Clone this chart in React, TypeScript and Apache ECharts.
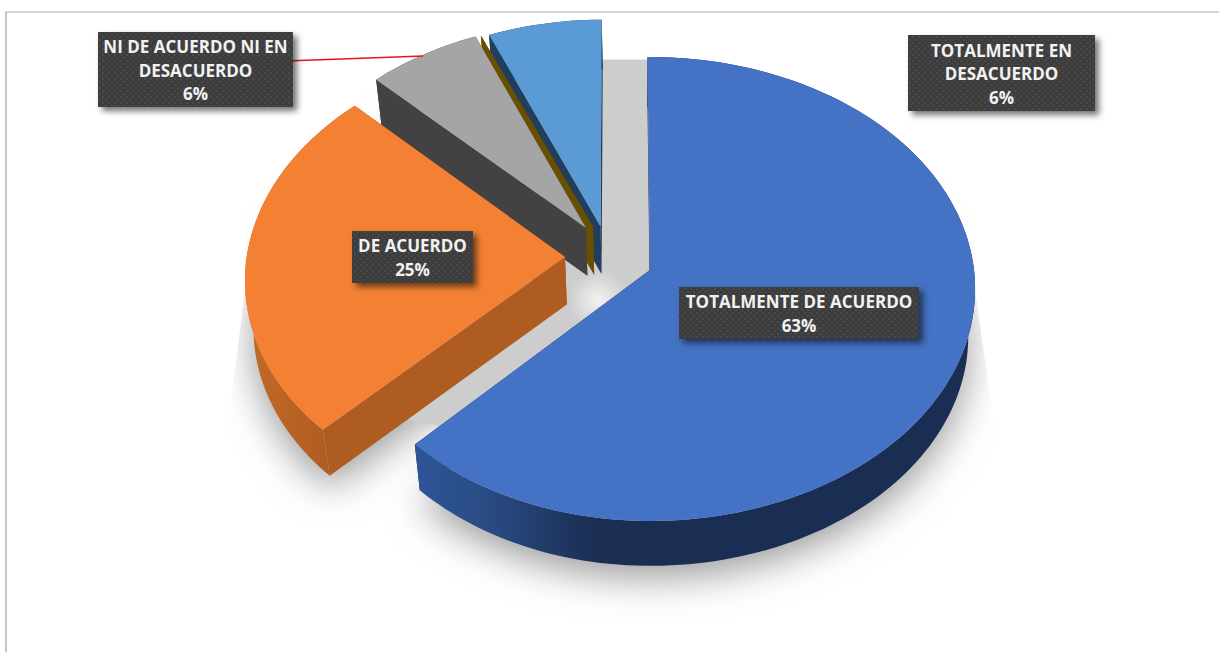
import React, { useEffect, useRef } from "react";
import * as echarts from "echarts";

const categories = [
  "TOTALMENTE DE ACUERDO",
  "DE ACUERDO",
  "NI DE ACUERDO NI EN DESACUERDO",
  "EN DESACUERDO",
  "TOTALMENTE EN DESACUERDO",
];
const shares = [62.5, 25, 6.25, 0, 6.25];
const topColors = ["#4472c4", "#f48133", "#a5a5a5", "#ffc000", "#5b9bd5"];
const radialWallColors = ["#1a2d52", "#ae5c21", "#424242", "#6b4f00", "#213f5c"];

const CX = 650, CY = 270, RX = 324, RY = 230.4, K = 0.082;
const BASE_Y = 317.5, BASE_RY = 228, BASE_SX = 0.979;
const START_DEG = -0.5;
const shifts = [[0, 0], [-0.2636, -0.0568], [-0.2005, -0.1854], [-0.1787, -0.19], [-0.155, -0.193]];
const leftScale = [0.975, 0.987, 0.99, 1, 0.99];
const layer = [14, 13, 12, 11, 10];

const topPt = (u: number, v: number) => {
  const d = 1 - K * v;
  return [CX + (RX * u) / d, CY + (RY * v) / d];
};
const basePt = (u: number, v: number) => {
  const d = 1 - K * v;
  return [CX + (BASE_SX * RX * u) / d, BASE_Y + (BASE_RY * v) / d];
};
const rim = (i: number, a0: number, a1: number, fn: (u: number, v: number) => number[]) => {
  const [du, dv] = shifts[i];
  const n = Math.max(1, Math.ceil((a1 - a0) / 1.5));
  const pts: number[][] = [];
  for (let j = 0; j <= n; j++) {
    const t = ((a0 + ((a1 - a0) * j) / n) * Math.PI) / 180;
    const s = Math.sin(t);
    pts.push(fn(du + (s < 0 ? s * leftScale[i] : s), dv - Math.cos(t)));
  }
  return pts;
};

const renderSlice = (params: any, api: any) => {
  const i = params.dataIndex;
  let before = 0;
  for (let j = 0; j < i; j++) before += shares[j];
  const total = shares.reduce((a, b) => a + b, 0);
  const a0 = START_DEG + (before / total) * 360;
  const a1 = a0 + (api.value(0) / total) * 360;
  const [du, dv] = shifts[i];
  const apexT = topPt(du, dv);
  const apexB = basePt(du, dv);
  const topArc = rim(i, a0, a1, topPt);
  const baseArc = rim(i, a0, a1, basePt);
  const z = layer[i];
  const poly = (points: number[][], style: any, z2: number) => ({
    type: "polygon",
    shape: { points },
    style,
    z2,
    silent: true,
  });
  const children: any[] = [];
  if (shares[i] > 0) {
    children.push(
      poly([apexB, ...baseArc], {
        fill: "#c4c4c4",
        shadowBlur: 38,
        shadowOffsetY: 12,
        shadowColor: "#9c9c9c",
      }, 1)
    );
  }
  if (i === 0) {
    children.push(
      poly(
        [[598, 60], [650, 60], [655, 290], [440, 426], [405, 418], [560, 265]],
        { fill: "#cdcdcd", shadowBlur: 10, shadowColor: "#cdcdcd" },
        2
      )
    );
    children.push(
      poly([[245, 290], [230, 410], [204, 652], [0, 652], [0, 0], [245, 0]], { fill: "#ffffff" }, 3),
      poly([[975, 290], [992, 410], [1026, 652], [1219, 652], [1219, 0], [975, 0]], { fill: "#ffffff" }, 3)
    );
    children.push({
      type: "rect",
      shape: { x: 560, y: 0, width: 150, height: 59 },
      style: { fill: "#ffffff" },
      z2: 3,
      silent: true,
    });
    children.push({
      type: "circle",
      shape: { cx: 598, cy: 300, r: 30 },
      style: {
        fill: {
          type: "radial", x: 0.5, y: 0.5, r: 0.5,
          colorStops: [
            { offset: 0, color: "rgba(255,255,255,0.75)" },
            { offset: 1, color: "rgba(255,255,255,0)" },
          ],
        },
      },
      z2: 4,
      silent: true,
    });
  }
  const wall = radialWallColors[i];
  const first = [topArc[0], baseArc[0]];
  const last = [topArc[topArc.length - 1], baseArc[baseArc.length - 1]];
  children.push(poly([apexT, first[0], first[1], apexB], { fill: wall }, z));
  children.push(poly([apexT, last[0], last[1], apexB], { fill: wall }, z));
  if (shares[i] > 0) {
    let outerFill: any = wall;
    if (i === 0) {
      outerFill = {
        type: "linear", x: 0, y: 0, x2: 1, y2: 0,
        colorStops: [
          { offset: 0, color: "#2f5597" },
          { offset: 0.12, color: "#2a4c86" },
          { offset: 0.33, color: "#1a2d52" },
          { offset: 1, color: "#1a2d52" },
        ],
      };
    } else if (i === 1) {
      outerFill = {
        type: "linear", x: 0, y: 0, x2: 1, y2: 0,
        colorStops: [
          { offset: 0, color: "#c46a26" },
          { offset: 1, color: "#a65820" },
        ],
      };
    }
    children.push(poly([...topArc, ...[...baseArc].reverse()], { fill: outerFill }, z));
    children.push(poly([apexT, ...topArc], { fill: topColors[i] }, z));
  }
  return { type: "group", children };
};

const labels = [
  { lines: "TOTALMENTE DE ACUERDO", idx: 0, box: [679, 287, 240, 52] },
  { lines: "DE ACUERDO", idx: 1, box: [352, 231, 121, 52] },
  { lines: "NI DE ACUERDO NI EN\nDESACUERDO", idx: 2, box: [98, 32, 195, 75] },
  { lines: "TOTALMENTE EN\nDESACUERDO", idx: 4, box: [908, 35, 187, 76] },
];

const makeTexture = () => {
  const c = document.createElement("canvas");
  c.width = 6;
  c.height = 6;
  const g = c.getContext("2d")!;
  g.fillStyle = "#3e3e3e";
  g.fillRect(0, 0, 6, 6);
  g.fillStyle = "#4a4a4a";
  g.fillRect(0, 0, 2, 2);
  g.fillRect(3, 3, 2, 2);
  return c;
};

export default function App() {
  const ref = useRef<HTMLDivElement>(null);
  useEffect(() => {
    document.body.style.margin = "0";
    const chart = echarts.init(ref.current!, undefined, { renderer: "svg" });
    const texture = makeTexture();
    const graphic: any[] = [
      { type: "line", shape: { x1: 6, y1: 12, x2: 6, y2: 652 }, style: { stroke: "#c6c6c6", lineWidth: 2 }, z: 20 },
      { type: "line", shape: { x1: 5, y1: 12, x2: 1219, y2: 12 }, style: { stroke: "#c6c6c6", lineWidth: 1.5 }, z: 20 },
      { type: "line", shape: { x1: 293, y1: 60.7, x2: 423, y2: 56 }, style: { stroke: "#f0101c", lineWidth: 1.5 }, z: 20 },
    ];
    labels.forEach((l) => {
      const [x, y, w, h] = l.box;
      graphic.push({
        type: "rect",
        shape: { x, y, width: w, height: h },
        style: {
          fill: { image: texture, repeat: "repeat" },
          shadowBlur: 6,
          shadowOffsetX: 4,
          shadowOffsetY: 4,
          shadowColor: "rgba(0,0,0,0.55)",
        },
        z: 21,
      });
      graphic.push({
        type: "text",
        x: x + w / 2,
        y: y + h / 2 + 0.5,
        style: {
          text: `${l.lines}\n${Math.round(shares[l.idx])}%`,
          fill: "#f2f2f2",
          font: 'bold 17px "Open Sans"',
          lineHeight: 23.5,
          align: "center",
          verticalAlign: "middle",
        },
        z: 22,
      });
    });
    chart.setOption({
      animation: false,
      backgroundColor: "#ffffff",
      graphic,
      series: [
        {
          type: "custom",
          coordinateSystem: "none",
          renderItem: renderSlice,
          silent: true,
          data: categories.map((name, i) => ({ name, value: [shares[i]] })),
          z: 5,
        },
      ],
    });
    return () => chart.dispose();
  }, []);
  return <div ref={ref} style={{ position: "fixed", left: 0, top: 0, width: 1219, height: 652 }} />;
}
